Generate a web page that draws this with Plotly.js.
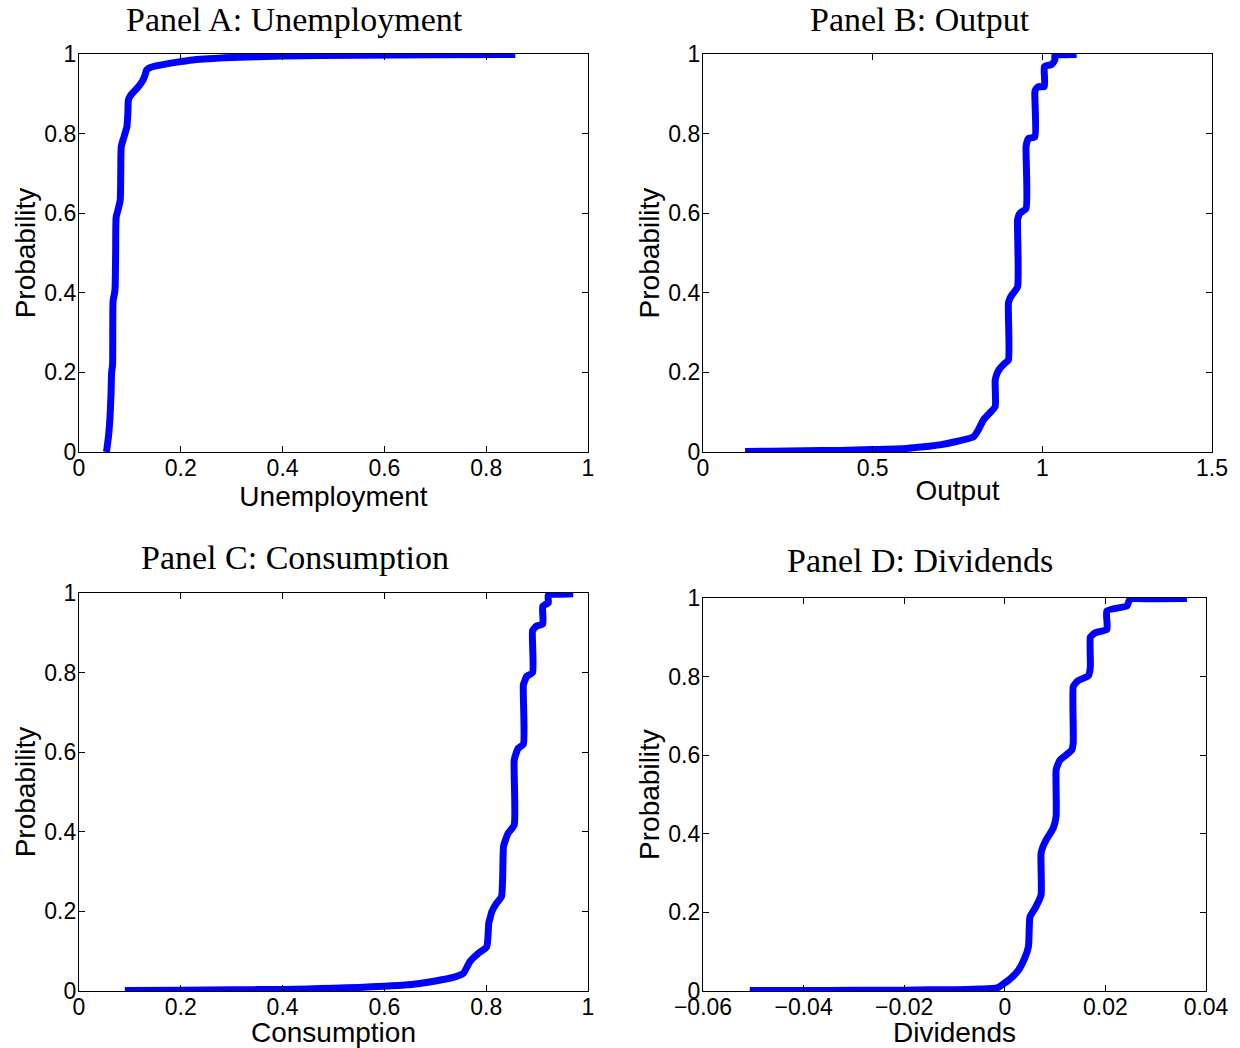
<!DOCTYPE html>
<html>
<head>
<meta charset="utf-8">
<script src="https://cdn.plot.ly/plotly-3.0.1.min.js"></script>
<style>html,body{margin:0;padding:0;background:#fff;}#chart{width:1240px;height:1048px;}</style>
</head>
<body>
<div id="chart"></div>
<script>
// Panel A: Unemployment CDF
const unempX = [0.054,0.058,0.061,0.063,0.064,0.066,0.067,0.070,0.071,0.072,0.073,0.077,0.081,0.082,0.083,0.088,0.094,0.096,0.097,0.100,0.104,0.115,0.126,0.130,0.133,0.140,0.159,0.190,0.224,0.300,0.400,0.550,0.700,0.857];
const unempP = [0.000,0.040,0.089,0.150,0.198,0.220,0.380,0.400,0.415,0.500,0.590,0.610,0.633,0.700,0.767,0.790,0.817,0.850,0.884,0.893,0.900,0.915,0.935,0.948,0.960,0.966,0.972,0.979,0.985,0.991,0.995,0.997,0.998,0.999];
// Panel B: Output CDF
const outputX = [0.124,0.200,0.300,0.400,0.500,0.600,0.650,0.698,0.750,0.797,0.811,0.826,0.845,0.861,0.861,0.866,0.875,0.888,0.900,0.900,0.904,0.910,0.927,0.927,0.930,0.934,0.952,0.952,0.955,0.959,0.978,0.978,0.981,0.988,1.006,1.006,1.015,1.028,1.037,1.037,1.060,1.101];
const outputP = [0.001,0.002,0.003,0.004,0.006,0.009,0.013,0.018,0.027,0.038,0.055,0.080,0.098,0.114,0.180,0.196,0.210,0.222,0.231,0.374,0.385,0.394,0.415,0.583,0.593,0.600,0.612,0.767,0.780,0.788,0.792,0.905,0.912,0.918,0.918,0.968,0.971,0.974,0.985,0.997,0.998,0.999];
// Panel C: Consumption CDF
const consX = [0.090,0.200,0.300,0.400,0.450,0.500,0.550,0.600,0.640,0.669,0.700,0.735,0.755,0.768,0.785,0.801,0.805,0.808,0.811,0.820,0.830,0.834,0.838,0.843,0.855,0.855,0.859,0.863,0.873,0.873,0.876,0.879,0.891,0.891,0.895,0.899,0.911,0.911,0.916,0.922,0.922,0.945,0.971];
const consP = [0.001,0.002,0.003,0.004,0.005,0.007,0.009,0.012,0.015,0.019,0.025,0.034,0.044,0.074,0.095,0.111,0.170,0.185,0.199,0.220,0.237,0.363,0.380,0.396,0.417,0.580,0.598,0.610,0.620,0.769,0.780,0.790,0.800,0.905,0.912,0.917,0.922,0.967,0.971,0.975,0.995,0.997,0.998];
// Panel D: Dividends CDF
const divX = [-0.0507,-0.040,-0.030,-0.020,-0.015,-0.010,-0.005,-0.0015,-0.0006,0.0010,0.0027,0.0040,0.0047,0.0050,0.0055,0.0060,0.0072,0.0072,0.0076,0.0082,0.0096,0.0102,0.0102,0.0105,0.0110,0.0133,0.0136,0.0136,0.0140,0.0146,0.0166,0.0170,0.0170,0.0174,0.0180,0.0203,0.0203,0.0243,0.0249,0.0300,0.0362];
const divP = [0.001,0.001,0.002,0.002,0.003,0.003,0.005,0.008,0.015,0.030,0.053,0.085,0.113,0.189,0.200,0.210,0.244,0.350,0.368,0.384,0.414,0.444,0.562,0.575,0.588,0.613,0.630,0.774,0.782,0.790,0.802,0.823,0.900,0.906,0.912,0.920,0.967,0.980,0.997,0.998,0.999];

const panelTitles = ["Panel A: Unemployment","Panel B: Output","Panel C: Consumption","Panel D: Dividends"];
const xTitles = ["Unemployment","Output","Consumption","Dividends"];
const yTitle = "Probability";
const xTicksA = [0,0.2,0.4,0.6,0.8,1];
const xTicksB = [0,0.5,1,1.5];
const xTicksD = [-0.06,-0.04,-0.02,0,0.02,0.04];
const yTicks = [0,0.2,0.4,0.6,0.8,1];

const W = 1240, H = 1048;
const lineStyle = {color:'#0000ff', width:7, shape:'spline', smoothing:0.5};

const traces = [
  {x:unempX, y:unempP, xaxis:'x', yaxis:'y'},
  {x:outputX, y:outputP, xaxis:'x2', yaxis:'y2'},
  {x:consX, y:consP, xaxis:'x3', yaxis:'y3'},
  {x:divX, y:divP, xaxis:'x4', yaxis:'y4'}
].map(t => Object.assign(t, {type:'scatter', mode:'lines', line:lineStyle, showlegend:false, hoverinfo:'x+y'}));

const tickFont = {family:'Liberation Sans, Arial, sans-serif', size:23, color:'#000'};
const titleFont = {family:'Liberation Sans, Arial, sans-serif', size:28, color:'#000'};

function xax(dom, range, ticks, title, anchor){
  return {domain:dom, range:range, tickvals:ticks, ticks:'inside', ticklen:6, tickcolor:'#000', tickwidth:1,
    showline:true, linecolor:'#000', linewidth:1.2, mirror:'ticks', showgrid:false, zeroline:false,
    ticklabelstandoff:-5,
    tickfont:tickFont, anchor:anchor, title:{text:title, font:titleFont, standoff:0}};
}
function yax(dom, anchor){
  return {domain:dom, range:[0,1], tickvals:yTicks, ticks:'inside', ticklen:6, tickcolor:'#000', tickwidth:1,
    showline:true, linecolor:'#000', linewidth:1.2, mirror:'ticks', showgrid:false, zeroline:false,
    ticklabelstandoff:-3,
    tickfont:tickFont, anchor:anchor, title:{text:yTitle, font:titleFont, standoff:0}};
}

const dxL = [79/W, 588/W], dxR = [703/W, 1212/W], dxRD = [703/W, 1206/W];
const dyT = [1-452/H, 1-54/H], dyB = [1-991/H, 1-593/H], dyBD = [1-991/H, 1-598/H];

const titleFontSerif = {family:'Liberation Serif, DejaVu Serif, serif', size:34, color:'#000'};
const annPos = [[294,19],[920,19],[295,557],[920,560]];
const annotations = panelTitles.map((t,i)=>({text:t, xref:'paper', yref:'paper', x:annPos[i][0]/W, y:1-annPos[i][1]/H,
  xanchor:'center', yanchor:'middle', showarrow:false, font:titleFontSerif}));

const layout = {
  width:W, height:H, margin:{l:0,r:0,t:0,b:0}, paper_bgcolor:'#fff', plot_bgcolor:'#fff',
  xaxis: xax(dxL, [0,1], xTicksA, xTitles[0], 'y'),
  yaxis: yax(dyT, 'x'),
  xaxis2: xax(dxR, [0,1.5], xTicksB, xTitles[1], 'y2'),
  yaxis2: yax(dyT, 'x2'),
  xaxis3: xax(dxL, [0,1], xTicksA, xTitles[2], 'y3'),
  yaxis3: yax(dyB, 'x3'),
  xaxis4: xax(dxRD, [-0.06,0.04], xTicksD, xTitles[3], 'y4'),
  yaxis4: yax(dyBD, 'x4'),
  annotations: annotations
};
layout.xaxis2.ticktext = ['0','0.5','1','1.5'];
layout.xaxis4.ticktext = ['\u22120.06','\u22120.04','\u22120.02','0','0.02','0.04'];
layout.xaxis2.tickmode = 'array';
layout.xaxis4.tickmode = 'array';

Plotly.newPlot('chart', traces, layout, {staticPlot:true, displayModeBar:false});
</script>
</body>
</html>
